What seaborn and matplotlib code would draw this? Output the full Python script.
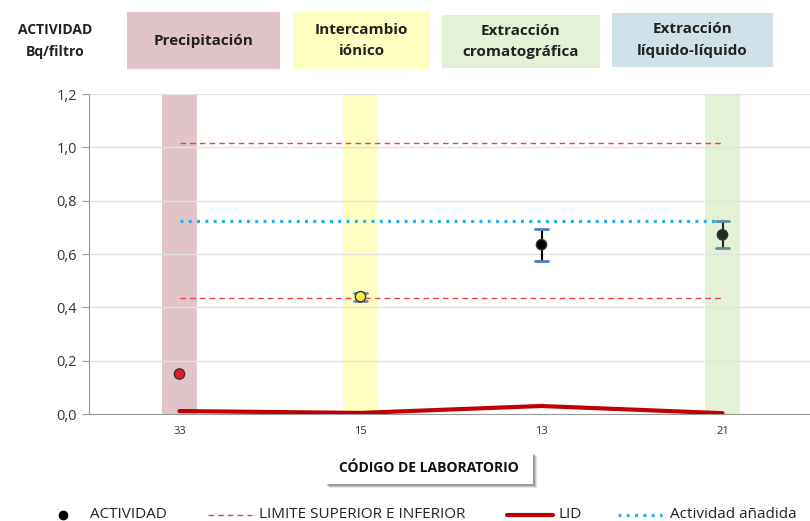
import numpy as np
import pandas as pd
import matplotlib
matplotlib.use("Agg")
import matplotlib.pyplot as plt
import seaborn as sns

# data
labs = ["33", "15", "13", "21"]
actividad = [0.15, 0.44, 0.635, 0.672]
err_low = [0.0, 0.015, 0.06, 0.05]
err_high = [0.0, 0.015, 0.06, 0.05]
lid = [0.011, 0.004, 0.030, 0.003]
lim_sup = 1.015
lim_inf = 0.435
act_anadida = 0.722
point_colors = ["#e8191c", "#f5f03c", "#000000", "#1f2b16"]
cap_colors = ["#4a5a8a", "#6f8f9f", "#4f7fbf", "#5f8fa0"]

metodos = ["Precipitación", "Intercambio\niónico", "Extracción\ncromatográfica", "Extracción\nlíquido-líquido"]
metodo_colors = ["#e0c4c7", "#ffffc2", "#e3f1d6", "#cfe2e9"]
band_idx = [0, 1, 3]
band_colors = ["#e0c4c7", "#ffffc2", "#e3f1d6"]

leg_labels = ["ACTIVIDAD", "LIMITE SUPERIOR E INFERIOR", "LID", "Actividad añadida"]

df = pd.DataFrame({"x": np.arange(len(labs)), "act": actividad, "lid": lid})

sns.set_style("white")
plt.rcParams["font.family"] = ["Open Sans", "DejaVu Sans"]

W, H = 810, 521
fig = plt.figure(figsize=(8.1, 5.21), dpi=100)
ax = fig.add_axes([89 / W, 1 - 414 / H, 724 / W, 320 / H])


def fx(px):
    return px / W


def fy(py):
    return 1 - py / H


dotted = (0, (0.9, 1.7))

# shaded bands
for i, c in zip(band_idx, band_colors):
    ax.axvspan(i - 0.097, i + 0.097, color=c, zorder=0, lw=0)

# gridlines
for yv in np.arange(0.2, 1.21, 0.2):
    ax.axhline(yv, color="#e3e3e3", lw=1, zorder=0.5)

# limits
ax.hlines([lim_sup, lim_inf], 0, 3, colors="#f04040", linestyles=(0, (4, 3)), lw=1, zorder=2)
ax.hlines(act_anadida, 0, 3, colors="#1fb0e8", linestyles=dotted, lw=2.3, zorder=2)

# LID
sns.lineplot(data=df, x="x", y="lid", ax=ax, color="#c00000", lw=3, zorder=3)

# error bars + points
for i in range(len(labs)):
    if err_low[i] > 0:
        ax.errorbar(i, actividad[i], yerr=[[err_low[i]], [err_high[i]]], fmt="none",
                    ecolor=point_colors[i] if i != 1 else "#777777", elinewidth=1.5,
                    capsize=0, zorder=4)
        ax.plot([i - 0.035, i + 0.035], [actividad[i] + err_high[i]] * 2, color=cap_colors[i], lw=2, zorder=4)
        ax.plot([i - 0.035, i + 0.035], [actividad[i] - err_low[i]] * 2, color=cap_colors[i], lw=2, zorder=4)
sns.scatterplot(data=df, x="x", y="act", hue="x", palette=point_colors, ax=ax,
                s=55, edgecolor="#333344", linewidth=1, legend=False, zorder=5)

ax.set_xlim(-0.5, 3.5)
ax.set_ylim(0, 1.2)
ax.set_yticks(np.arange(0, 1.21, 0.2))
ax.set_yticklabels([f"{v:.1f}".replace(".", ",") for v in np.arange(0, 1.21, 0.2)], fontsize=10.5, color="#333333")
ax.set_xticks(range(len(labs)))
ax.set_xticklabels(labs, fontsize=8, color="#333333")
ax.set_xticks([0.5, 1.5, 2.5], minor=True)
ax.tick_params(axis="x", which="major", length=0, pad=9)
ax.tick_params(axis="x", which="minor", length=4, color="#999999")
ax.tick_params(axis="y", length=5, color="#999999", left=True)
ax.set_xlabel("")
ax.set_ylabel("")
for s in ["top", "right"]:
    ax.spines[s].set_visible(False)
ax.spines["left"].set_color("#999999")
ax.spines["bottom"].set_color("#999999")

# y title
fig.text(fx(55), fy(41), "ACTIVIDAD\nBq/filtro", ha="center", va="center",
         fontsize=10, fontweight="bold", color="#222222", linespacing=1.75)

# method header boxes
boxes = [(127, 12, 153, 57), (293, 12, 137, 57), (442, 15, 158, 53), (612, 13, 161, 54)]
for (bx, by, bw, bh), txt, c in zip(boxes, metodos, metodo_colors):
    fig.patches.append(plt.Rectangle((fx(bx), fy(by + bh)), bw / W, bh / H,
                                     transform=fig.transFigure, color=c, lw=0))
    fig.text(fx(bx + bw / 2), fy(by + bh / 2), txt, ha="center", va="center",
             fontsize=11, fontweight="bold", color="#222222", linespacing=1.7)

# x title with soft shadow
for k, a in enumerate([0.10, 0.14, 0.2]):
    off = 4 - k
    fig.patches.append(plt.Rectangle((fx(325 + off), fy(484 + off)), 208 / W, 32 / H,
                                     transform=fig.transFigure, color="black", alpha=a, lw=0))
fig.patches.append(plt.Rectangle((fx(325), fy(484)), 208 / W, 32 / H,
                                 transform=fig.transFigure, color="white", lw=0))
fig.text(fx(429), fy(468), "CÓDIGO DE LABORATORIO", ha="center", va="center",
         fontsize=10, fontweight="bold", color="#111111")

# legend drawn by hand
ly = fy(515)
fig.add_artist(plt.Line2D([fx(63)], [ly], marker="o", color="black", ls="none", markersize=6))
fig.add_artist(plt.Line2D([fx(208), fx(252)], [ly, ly], color="#f04040", ls=(0, (4, 3)), lw=1))
fig.add_artist(plt.Line2D([fx(507), fx(553)], [ly, ly], color="#c00000", lw=3))
fig.add_artist(plt.Line2D([fx(618), fx(662)], [ly, ly], color="#1fb0e8", ls=dotted, lw=2.3))
for x0, t in zip([90, 259, 558, 670], leg_labels):
    fig.text(fx(x0), ly, t, ha="left", va="center", fontsize=11, color="#222222")

fig.savefig("out.png", dpi=100)
